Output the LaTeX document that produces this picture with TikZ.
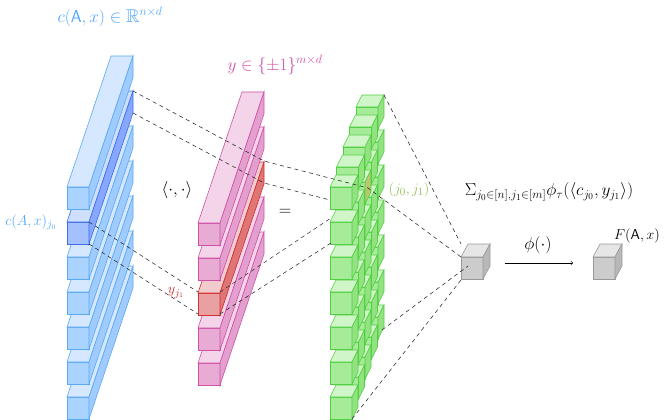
\documentclass[tikz,border=0pt]{standalone}
\usepackage{amsmath,amssymb}
\begin{document}
\begin{tikzpicture}[x=1pt,y=-1pt,
  dl/.style={dash pattern=on 4pt off 3.5pt,black!85,line width=0.55pt},
  lab/.style={font=\fontsize{18.5}{22}\selectfont,inner sep=0pt},
  sml/.style={font=\fontsize{15}{18}\selectfont,inner sep=0pt}]
\definecolor{blT}{HTML}{D5E8FF}\definecolor{blF}{HTML}{AAD3FF}\definecolor{blS}{HTML}{9FCBFF}\definecolor{blD}{HTML}{5AA9F5}
\definecolor{hbT}{HTML}{CFE0FF}\definecolor{hbF}{HTML}{A5C0FF}\definecolor{hbS}{HTML}{88A8FF}\definecolor{hbD}{HTML}{3A6DF0}
\definecolor{pkT}{HTML}{F3D4E8}\definecolor{pkF}{HTML}{E8ACD4}\definecolor{pkS}{HTML}{E3A0CE}\definecolor{pkD}{HTML}{D050A8}
\definecolor{rdT}{HTML}{F2CCCC}\definecolor{rdF}{HTML}{E8A0A0}\definecolor{rdS}{HTML}{E07575}\definecolor{rdD}{HTML}{D03030}
\definecolor{grT}{HTML}{D0F5C8}\definecolor{grF}{HTML}{A6EB98}\definecolor{grS}{HTML}{92E282}\definecolor{grD}{HTML}{50D040}
\definecolor{olS}{HTML}{B8C870}\definecolor{olT}{HTML}{90C050}
\definecolor{btx}{HTML}{4DA6FF}
\definecolor{gyT}{HTML}{E6E6E6}\definecolor{gyF}{HTML}{CCCCCC}\definecolor{gyS}{HTML}{B8B8B8}\definecolor{gyD}{HTML}{999999}
\newcommand{\cub}[6]{%
  \filldraw[draw=#5D,fill=#5F,line width=0.6pt] (#1,#2) rectangle ({#1+22},{#2+22});
  \filldraw[draw=#5D,fill=#5T,line width=0.6pt] (#1,#2) -- ({#1+22},#2) -- ({#1+22+#3},{#2+#4}) -- ({#1+#3},{#2+#4}) -- cycle;
  \filldraw[draw=#5D,fill=#6,line width=0.6pt] ({#1+22},#2) -- ({#1+22+#3},{#2+#4}) -- ({#1+22+#3},{#2+22+#4}) -- ({#1+22},{#2+22}) -- cycle;}
\useasboundingbox (0,0) rectangle (665,420);
% blue
\foreach \k in {6,...,0}{\ifnum\k=1 \cub{67}{187+35*\k}{44}{-131}{hb}{hbS}\else\cub{67}{187+35*\k}{44}{-131}{bl}{blS}\fi}
% pink
\foreach \k in {4,...,0}{\ifnum\k=2 \cub{198}{223+35*\k}{44}{-131}{rd}{rdS}\else\cub{198}{223+35*\k}{44}{-131}{pk}{pkS}\fi}
% green
\foreach \k in {4,...,0}{\foreach \r in {6,...,0}{%
  \ifnum\k=2 \ifnum\r=1 \cub{330+6.5*\k}{187+35*\r-20*\k}{6}{-12}{gr}{olS}\else\cub{330+6.5*\k}{187+35*\r-20*\k}{6}{-12}{gr}{grS}\fi
  \else\cub{330+6.5*\k}{187+35*\r-20*\k}{6}{-12}{gr}{grS}\fi}}
% gray cubes
\cub{461}{257}{7}{-13}{gy}{gyS}
\cub{593}{257}{7}{-13}{gy}{gyS}
% dashed
\coordinate (bA) at (133,91); \coordinate (bB) at (133,113);
\coordinate (bC) at (89,222); \coordinate (bD) at (89,244);
\coordinate (rA) at (264,161); \coordinate (rB) at (264,183);
\coordinate (rC) at (198,292); \coordinate (rD) at (198,314);
\coordinate (rE) at (220,292); \coordinate (rF) at (220,314);
\coordinate (gA) at (368,188); \coordinate (gB) at (330,200);
\coordinate (gC) at (331,218); \coordinate (gD) at (331,243);
\coordinate (gT) at (384,95); \coordinate (gM) at (382,330); \coordinate (gL) at (352,419);
\coordinate (kT) at (461,244); \coordinate (kL) at (461,257); \coordinate (kB) at (461,280); \coordinate (kR) at (468,266);
\draw[dl] (bA) -- (rA) -- (gA) -- (kL);
\draw[dl] (bB) -- (rB) -- (gB);
\draw[dl] (bC) -- (rC); \draw[dl] (bD) -- (rD);
\draw[dl] (rE) -- (gC); \draw[dl] (rF) -- (gD);
\draw[dl] (gT) -- (kT); \draw[dl] (gM) -- (kR); \draw[dl] (gL) -- (kB);
% labels
\node[lab,text=btx] (t1) at (110,17) {$c(\mathsf{A},x)\in\mathbb{R}^{n\times d}$};
\node[lab,text=pkD] (t2) at (275,65) {$y\in\{\pm1\}^{m\times d}$};
\node[sml,text=btx] (t3) at (31,222) {$c(A,x)_{j_0}$};
\node[lab] (t4) at (177,190) {$\langle\cdot,\cdot\rangle$};
\node[sml,text=rdD] (t5) at (176,293) {$y_{j_1}$};
\node[lab] (t6) at (285,212) {$=$};
\node[sml,text=olT] (t7) at (409,190) {$(j_0,j_1)$};
\node[lab] (t8) at (549,192) {$\Sigma_{j_0\in[n],j_1\in[m]}\phi_\tau(\langle c_{j_0},y_{j_1}\rangle)$};
\node[lab] (t9) at (538,245) {$\phi(\cdot)$};
\node[sml] (t10) at (637,236) {$F(\mathsf{A},x)$};
\coordinate (aS) at (505,263); \coordinate (aE) at (573,263);
\draw[->,line width=0.6pt] (aS) -- (aE);
\end{tikzpicture}
\end{document}
